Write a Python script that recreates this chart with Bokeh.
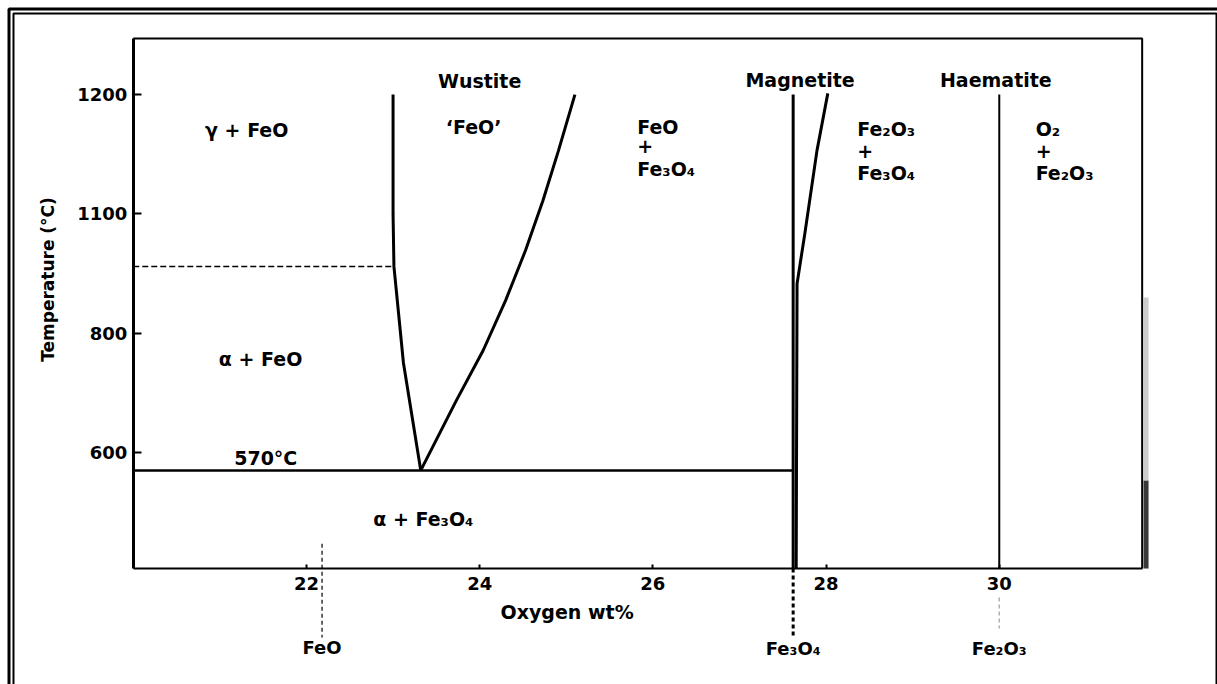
from bokeh.plotting import figure
from bokeh.models import Range1d, FixedTicker, BoxAnnotation
from bokeh.core.properties import value
from bokeh.embed import file_html
from bokeh.resources import INLINE
import math

# ---------------- data ----------------
x_ticks = [22, 24, 26, 28, 30]
y_ticks = [600, 800, 1000, 1200]
y_tick_labels = ["600", "800", "1100", "1200"]

# diagram box (axis extents)
x_min, x_max = 20.0, 31.65
t_min, t_max = 405.5, 1294.0

# phase boundaries (Oxygen wt%, Temperature °C)
wustite_left_x = [23.00, 23.00, 23.01, 23.12, 23.32]
wustite_left_t = [1200, 1000, 912, 750, 570]
wustite_right_x = [23.32, 23.73, 24.04, 24.30, 24.53, 24.73, 24.91, 25.10]
wustite_right_t = [570, 687, 771, 855, 939, 1022, 1106, 1200]
magnetite_left_x = [27.62, 27.62]
magnetite_left_t = [t_min, 1200]
magnetite_right_x = [27.655, 27.665, 27.755, 27.895, 28.02]
magnetite_right_t = [t_min, 883, 967, 1106, 1202]
haematite_x = [30.0, 30.0]
haematite_t = [t_min, 1200]
eutectoid_x = [x_min, 27.62]
eutectoid_t = [570, 570]
alpha_gamma_x = [x_min, 23.0]
alpha_gamma_t = [912, 912]

# region labels (centred)
region_text = ["Wustite", "Magnetite", "Haematite", "γ + FeO", "‘FeO’",
               "α + FeO", "570°C", "α + Fe₃O₄"]
region_x = [24.00, 27.70, 29.96, 21.31, 23.93, 21.47, 21.53, 23.35]
region_t = [1222, 1224, 1224, 1140, 1145, 756, 590, 489]

# stacked two-phase labels (left aligned)
stack_text = ["FeO", "+", "Fe₃O₄", "Fe₂O₃", "+", "Fe₃O₄", "O₂", "+", "Fe₂O₃"]
stack_x = [25.82, 25.82, 25.82, 28.36, 28.36, 28.36, 30.42, 30.42, 30.42]
stack_t = [1146, 1113, 1076, 1143, 1106, 1069, 1143, 1106, 1069]

# compounds marked below the axis
compound_text = ["FeO", "Fe₃O₄", "Fe₂O₃"]
compound_x = [22.18, 27.62, 30.0]
compound_label_t = [273, 271, 271]
compound_line_top = [447, 405.5, 357]
compound_line_bottom = [290, 290, 305]
compound_line_color = ["#333333", "black", "#b0b0b0"]
compound_line_width = [1.5, 3, 1.5]

FONT = "DejaVu Sans"

p = figure(width=1217, height=684, output_backend="svg", toolbar_location=None,
           x_range=Range1d(18.467, 32.52), y_range=Range1d(211.1, 1357.7),
           min_border=0)
p.grid.visible = False
p.outline_line_color = None
p.background_fill_color = "white"
p.border_fill_color = "white"

# axes drawn at the diagram box edges
p.xaxis.fixed_location = t_min
p.yaxis.fixed_location = x_min
p.xaxis.bounds = (x_min, x_max)
p.yaxis.bounds = (t_min, t_max)
p.yaxis.ticker = FixedTicker(ticks=y_ticks)
p.yaxis.major_label_overrides = {t: l for t, l in zip(y_ticks, y_tick_labels)}
p.xaxis.ticker = FixedTicker(ticks=x_ticks)
for ax in (p.xaxis, p.yaxis):
    ax.minor_tick_line_color = None
    ax.major_tick_out = 0
    ax.major_tick_line_width = 2
    ax.major_label_text_font = FONT
    ax.major_label_text_font_style = "bold"
    ax.major_label_text_font_size = "18px"
    ax.major_label_text_color = "black"
    ax.axis_line_color = "black"
p.yaxis.axis_line_width = 3
p.xaxis.axis_line_width = 2
p.yaxis.major_tick_in = 8
p.xaxis.major_tick_in = 4
p.yaxis.major_label_standoff = 6
p.xaxis.major_label_standoff = 8

# top and right edges of the diagram box
p.line([x_min, x_max, x_max], [t_max, t_max, t_min], line_color="black", line_width=2)

# scan shading on the right edge
p.line([x_max + 0.045, x_max + 0.045], [t_min, 553], line_color="#222222", line_width=5, line_alpha=0.9)
p.line([x_max + 0.045, x_max + 0.045], [553, 860], line_color="#aaaaaa", line_width=5, line_alpha=0.6)

# boundaries
p.line(wustite_left_x, wustite_left_t, line_color="black", line_width=3)
p.line(wustite_right_x, wustite_right_t, line_color="black", line_width=3)
p.line(magnetite_left_x, magnetite_left_t, line_color="black", line_width=3)
p.line(magnetite_right_x, magnetite_right_t, line_color="black", line_width=3)
p.line(haematite_x, haematite_t, line_color="black", line_width=2)
p.line(eutectoid_x, eutectoid_t, line_color="black", line_width=2.5)
p.line(alpha_gamma_x, alpha_gamma_t, line_color="black", line_width=1.5, line_dash="6 3")

# labels
p.text(x=region_x, y=region_t, text=region_text, text_font=value(FONT),
       text_font_style="bold", text_font_size="19px", text_align="center",
       text_baseline="middle", text_color="black")
p.text(x=stack_x, y=stack_t, text=stack_text, text_font=value(FONT),
       text_font_style="bold", text_font_size="19px", text_align="left",
       text_baseline="middle", text_color="black")

# compounds below the axis
p.segment(x0=compound_x, y0=compound_line_top, x1=compound_x, y1=compound_line_bottom,
          line_color=compound_line_color, line_width=compound_line_width, line_dash="4 3")
p.text(x=compound_x, y=compound_label_t, text=compound_text, text_font=value(FONT),
       text_font_style="bold", text_font_size="18px", text_align="center",
       text_baseline="middle", text_color="black")

# axis titles
p.text(x=[25.01], y=[332], text=["Oxygen wt%"], text_font=value(FONT),
       text_font_style="bold", text_font_size="19px", text_align="center",
       text_baseline="middle", text_color="black")
p.text(x=[19.01], y=[890], text=["Temperature (°C)"], text_font=value(FONT),
       text_font_style="bold", text_font_size="17px", text_align="center",
       text_baseline="middle", text_color="black", angle=math.pi / 2)

# page double border
p.add_layout(BoxAnnotation(left=8.5, right=1400, top=8.5, bottom=1000,
                           left_units="canvas", right_units="canvas",
                           top_units="canvas", bottom_units="canvas",
                           fill_alpha=0, line_color="black", line_alpha=1.0, line_width=3))
p.add_layout(BoxAnnotation(left=13, right=1216, top=13, bottom=1000,
                           left_units="canvas", right_units="canvas",
                           top_units="canvas", bottom_units="canvas",
                           fill_alpha=0, line_color="black", line_alpha=1.0, line_width=2))

open("out.html", "w").write(file_html(p, INLINE))
